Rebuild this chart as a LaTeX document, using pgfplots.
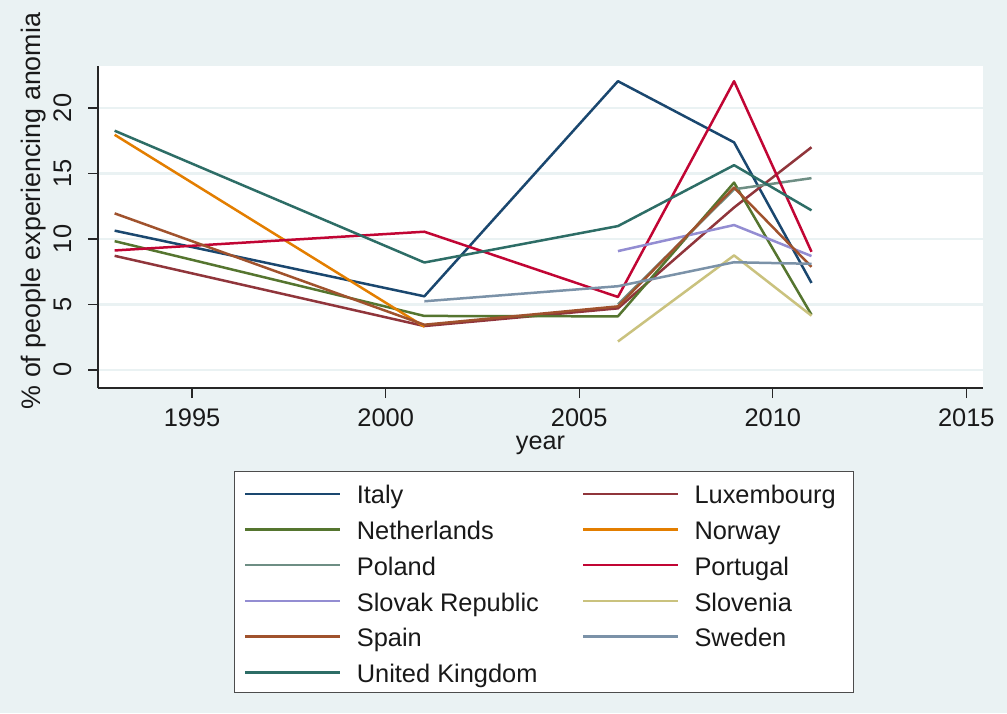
\documentclass[border=0pt]{standalone}
\usepackage{pgfplots}
\pgfplotsset{compat=1.18}
\usepackage{fontspec}
\setmainfont{Liberation Sans}
\definecolor{bgc}{RGB}{234,242,243}
\definecolor{gridc}{RGB}{234,242,243}
\definecolor{snavy}{RGB}{26,71,111}
\definecolor{smaroon}{RGB}{144,53,59}
\definecolor{sforest}{RGB}{85,117,47}
\definecolor{sdkorange}{RGB}{227,126,0}
\definecolor{steal}{RGB}{110,142,132}
\definecolor{scranberry}{RGB}{193,5,52}
\definecolor{slavender}{RGB}{147,141,210}
\definecolor{skhaki}{RGB}{202,194,126}
\definecolor{ssienna}{RGB}{160,82,45}
\definecolor{semidblue}{RGB}{123,146,168}
\definecolor{semerald}{RGB}{45,109,102}
\begin{document}
\begin{tikzpicture}
\fill[bgc] (0,0) rectangle (503.5pt,356.5pt);
\begin{axis}[
  at={(49pt,162.5pt)}, anchor=south west,
  width=442.5pt, height=161pt, scale only axis,
  xmin=1992.57, xmax=2015.43, ymin=-1.38, ymax=23.2,
  axis x line*=bottom, axis y line*=left,
  axis line style={-, draw=black!85, line width=0.6pt},
  axis background/.style={fill=white},
  xtick={1995,2000,2005,2010,2015},
  ytick={0,5,10,15,20},
  minor tick num=0,
  ymajorgrids, xmajorgrids=false,
  grid style={draw=gridc, line width=1.2pt},
  tick align=outside, major tick length=5pt,
  tick style={draw=black!85, line width=0.6pt},
  /pgf/number format/assume math mode=true,
  xticklabel style={/pgf/number format/1000 sep={}, anchor=north, inner sep=0pt},
  ticklabel style={font=\fontsize{12.7}{15}\selectfont, text=black!90},
  yticklabel style={rotate=90, anchor=south, inner sep=0pt},
  xticklabel shift=5.15pt,
  yticklabel shift=8.15pt,
  xlabel={year},
  xlabel style={at={(axis description cs:0.5,-0.1925)}, anchor=base, inner sep=0pt, font=\fontsize{12.6}{15}\selectfont, text=black!90},
  ylabel={\% of people experiencing anomia},
  ylabel style={at={(axis description cs:-0.0655,0.5497)}, anchor=base, inner sep=0pt, font=\fontsize{13.4}{16}\selectfont, text=black!90},
  legend columns=2,
  legend cell align=left,
  legend style={at={(axis description cs:0.1536,-0.2578)}, anchor=north west,
    draw=black!70, line width=0.6pt, fill=white,
    inner xsep=4.8pt, inner ysep=1.65pt, row sep=0pt,
    font=\fontsize{12.7}{15}\selectfont,
    nodes={inner sep=0pt, text height=14.5pt, text depth=3.35pt, text=black!90},
    /tikz/every odd column/.append style={column sep=7.6pt},
    /tikz/every even column/.append style={column sep=0pt}},
  legend image code/.code={\draw[#1, line width=1.25pt] (0pt,-0.5pt) -- (47.5pt,-0.5pt);},
  every axis plot/.append style={line width=1.25pt, line join=round},
]
\addplot[snavy] coordinates {(1993,10.63) (2001,5.62) (2006,22.04) (2009,17.37) (2011,6.64)};
\addlegendentry{\makebox[112.5pt][l]{Italy}}
\addplot[smaroon] coordinates {(1993,8.71) (2001,3.35) (2006,4.7) (2009,12.4) (2011,17.0)};
\addlegendentry{\makebox[74.5pt][l]{Luxembourg}}
\addplot[sforest] coordinates {(1993,9.83) (2001,4.12) (2006,4.09) (2009,14.3) (2011,4.21)};
\addlegendentry{\makebox[112.5pt][l]{Netherlands}}
\addplot[sdkorange] coordinates {(1993,17.95) (2001,3.3)};
\addlegendentry{\makebox[74.5pt][l]{Norway}}
\addplot[steal] coordinates {(2006,5.0) (2009,13.79) (2011,14.64)};
\addlegendentry{\makebox[112.5pt][l]{Poland}}
\addplot[scranberry] coordinates {(1993,9.12) (2001,10.55) (2006,5.57) (2009,22.04) (2011,9.02)};
\addlegendentry{\makebox[74.5pt][l]{Portugal}}
\addplot[slavender] coordinates {(2006,9.07) (2009,11.06) (2011,8.69)};
\addlegendentry{\makebox[112.5pt][l]{Slovak Republic}}
\addplot[skhaki] coordinates {(2006,2.17) (2009,8.74) (2011,4.14)};
\addlegendentry{\makebox[74.5pt][l]{Slovenia}}
\addplot[ssienna] coordinates {(1993,11.95) (2001,3.45) (2006,4.85) (2009,13.92) (2011,7.87)};
\addlegendentry{\makebox[112.5pt][l]{Spain}}
\addplot[semidblue] coordinates {(2001,5.24) (2006,6.39) (2009,8.22) (2011,8.1)};
\addlegendentry{\makebox[74.5pt][l]{Sweden}}
\addplot[semerald] coordinates {(1993,18.26) (2001,8.2) (2006,10.98) (2009,15.63) (2011,12.18)};
\addlegendentry{\makebox[112.5pt][l]{United Kingdom}}
\end{axis}
\end{tikzpicture}
\end{document}
